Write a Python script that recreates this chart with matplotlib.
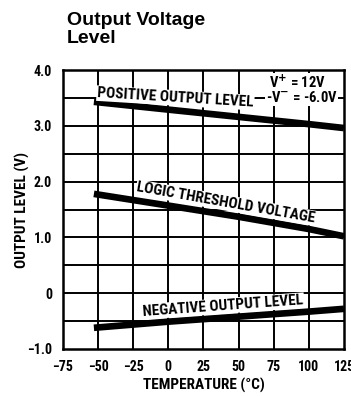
import matplotlib
matplotlib.use("Agg")
import matplotlib.pyplot as plt

# condensed bold for all chart text, with a fallback
plt.rcParams["font.family"] = ["Roboto Condensed", "DejaVu Sans"]
plt.rcParams["font.weight"] = "bold"
plt.rcParams["axes.labelweight"] = "bold"
plt.rcParams["mathtext.default"] = "bf"

temps = [-53, 0, 50, 100, 125]
positive_out = [3.43, 3.29, 3.16, 3.03, 2.96]
logic_threshold = [1.78, 1.57, 1.37, 1.15, 1.02]
negative_out = [-0.62, -0.51, -0.42, -0.33, -0.28]

xticks = [-75, -50, -25, 0, 25, 50, 75, 100, 125]
yticks = [-1.0, 0, 1.0, 2.0, 3.0, 4.0]
ytick_labels = ["\u22121.0", "0", "1.0", "2.0", "3.0", "4.0"]

fig = plt.figure(figsize=(3.51, 3.96), dpi=100)
ax = fig.add_axes([0.1795, 0.1187, 0.8005, 0.7045])

ax.set_xlim(-75, 125)
ax.set_ylim(-1.0, 4.0)
for x in xticks[1:-1]:
    ax.axvline(x, color="black", lw=1.4, zorder=1)
y = -0.5
while y < 4.0:
    ax.axhline(y, color="black", lw=1.4, zorder=1)
    y += 0.5
for s in ax.spines.values():
    s.set_linewidth(1.8)

for vals in (positive_out, logic_threshold, negative_out):
    ax.plot(temps, vals, color="black", lw=4.8, solid_capstyle="butt", zorder=3)

box = dict(facecolor="white", edgecolor="none", pad=0.5)
ax.text(5, 3.50, "POSITIVE OUTPUT LEVEL", rotation=-3.5, ha="center", va="center",
        fontsize=11, bbox=box, zorder=4)
ax.text(41, 1.62, "LOGIC THRESHOLD VOLTAGE", rotation=-10, ha="center", va="center",
        fontsize=11, bbox=box, zorder=4)
ax.text(39, -0.23, "NEGATIVE OUTPUT LEVEL", rotation=4.2, ha="center", va="center",
        fontsize=11, bbox=box, zorder=4)
ax.text(92, 3.77, "V$^{+}$ = 12V", ha="center", va="center", fontsize=10.5,
        bbox=box, zorder=4)
ax.text(95, 3.50, "-V$^{-}$ = -6.0V", ha="center", va="center", fontsize=10.5,
        bbox=box, zorder=4)

ax.set_xticks(xticks)
ax.set_xticklabels([str(t).replace("-", "\u2212") for t in xticks], fontsize=10)
ax.set_yticks(yticks)
ax.set_yticklabels(ytick_labels, fontsize=10)
ax.tick_params(length=0, pad=8)
ax.set_xlabel("TEMPERATURE (°C)", fontsize=11, labelpad=3)
ax.set_ylabel("OUTPUT LEVEL (V)", fontsize=11, labelpad=-2)

fig.text(67 / 351, 1 - 12 / 396, "Output Voltage\nLevel", fontsize=14,
         fontweight="bold", family=["Liberation Sans", "DejaVu Sans"],
         va="top", ha="left", linespacing=1.05)

fig.savefig("out.png", dpi=100)
